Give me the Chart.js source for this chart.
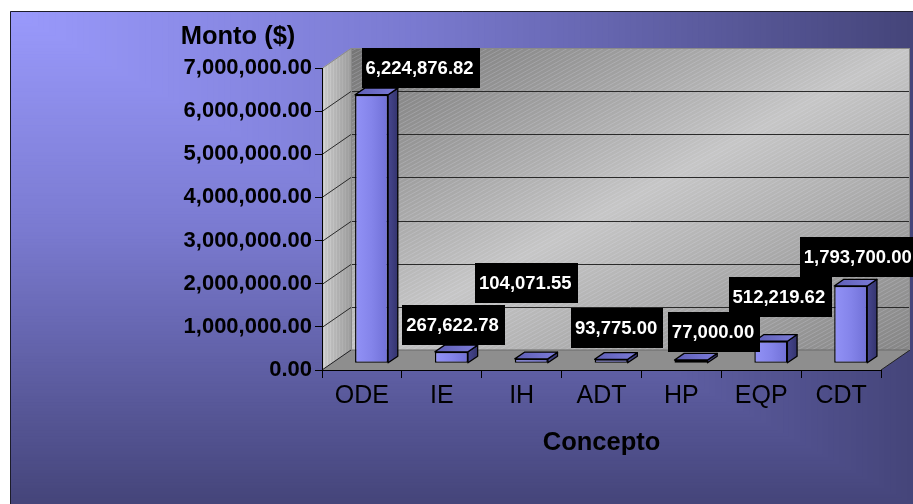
<!DOCTYPE html>
<html>
<head>
<meta charset="utf-8">
<script src="https://cdn.jsdelivr.net/npm/chart.js@4.4.1/dist/chart.umd.min.js"></script>
<style>
  html, body { margin: 0; padding: 0; background: #fff; }
  canvas { display: block; }
</style>
</head>
<body>
<canvas id="chart" width="913" height="504"></canvas>
<script>
// ---- data ----
const categories = ['ODE', 'IE', 'IH', 'ADT', 'HP', 'EQP', 'CDT'];
const montos = [6224876.82, 267622.78, 104071.55, 93775.00, 77000.00, 512219.62, 1793700.00];
const yTickValues = [0, 1000000, 2000000, 3000000, 4000000, 5000000, 6000000, 7000000];
const yTitle = 'Monto ($)';
const xTitle = 'Concepto';

// ---- layout / style ----
const DEPTH = { x: 29, y: -20 };            // depth of the 3-D box (back wall offset)
const BAR_SHIFT = { x: DEPTH.x / 3, y: DEPTH.y / 3 };   // bars sit one third into the box
const BAR_DEPTH = { x: DEPTH.x / 3, y: DEPTH.y / 3 };   // thickness of each bar
// value-box centre relative to the top-front-centre of its bar
const labelNudge = [[49, -27], [2, -27], [-5, -76], [6, -31], [23, -28], [9, -44], [8, -29]];
const FONT = '"Liberation Sans", Arial, Helvetica, sans-serif';

const fmt = v => v.toLocaleString('en-US', { minimumFractionDigits: 2, maximumFractionDigits: 2 });

function mixColor(stops, t) {
  for (let i = 1; i < stops.length; i++) {
    if (t <= stops[i][0]) {
      const [t0, c0] = stops[i - 1], [t1, c1] = stops[i];
      const k = (t - t0) / (t1 - t0);
      const c = c0.map((v, j) => Math.round(v + (c1[j] - v) * k));
      return `rgb(${c[0]},${c[1]},${c[2]})`;
    }
  }
  const c = stops[stops.length - 1][1];
  return `rgb(${c[0]},${c[1]},${c[2]})`;
}

function hatch(ctx, x0, y0, x1, y1, color, gap, slope) {
  ctx.save();
  ctx.strokeStyle = color;
  ctx.lineWidth = 1;
  const h = y1 - y0, w = x1 - x0;
  for (let s = -w * Math.abs(slope) - h; s < h + w; s += gap) {
    ctx.beginPath();
    ctx.moveTo(x0, y1 - s);
    ctx.lineTo(x1, y1 - s - w * slope);
    ctx.stroke();
  }
  ctx.restore();
}

function poly(ctx, pts) {
  ctx.beginPath();
  ctx.moveTo(pts[0][0], pts[0][1]);
  for (let i = 1; i < pts.length; i++) ctx.lineTo(pts[i][0], pts[i][1]);
  ctx.closePath();
}

// background, frame, walls and floor of the 3-D box
const backdrop = {
  id: 'backdrop',
  beforeDraw(chart) {
    const ctx = chart.ctx;
    const { left: L, right: R, top: T, bottom: B } = chart.chartArea;
    const dx = DEPTH.x, dy = DEPTH.y;
    const y = chart.scales.y;
    ctx.save();
    ctx.fillStyle = '#ffffff';
    ctx.fillRect(0, 0, chart.width, chart.height);

    // corner gradient fill of the chart frame
    const fx = 10, fy = 11, fw = chart.width - fx, fh = chart.height - fy;
    const stops = [[0, [154, 154, 252]], [0.45, [122, 122, 208]], [1, [69, 69, 122]]];
    const N = 160;
    for (let i = N; i >= 1; i--) {
      const t = i / N;
      ctx.fillStyle = mixColor(stops, t);
      ctx.fillRect(fx, fy, fw * t, fh * t);
    }
    ctx.strokeStyle = '#1c1c2a';
    ctx.lineWidth = 1;
    ctx.beginPath();
    ctx.moveTo(fx + 0.5, chart.height + 2);
    ctx.lineTo(fx + 0.5, fy + 0.5);
    ctx.lineTo(chart.width + 2, fy + 0.5);
    ctx.stroke();

    // back wall
    const bx0 = L + dx, by0 = T + dy, bx1 = R + dx, by1 = B + dy;
    const cx = (bx0 + bx1) / 2, cy = (by0 + by1) / 2;
    const ux = (by1 - by0), uy = (bx1 - bx0);
    const ul = Math.hypot(ux, uy);
    const proj = Math.abs(((bx0 - cx) * ux + (by0 - cy) * uy) / ul);
    const g = ctx.createLinearGradient(cx - ux / ul * proj, cy - uy / ul * proj, cx + ux / ul * proj, cy + uy / ul * proj);
    g.addColorStop(0, '#747474');
    g.addColorStop(0.5, '#c6c6c6');
    g.addColorStop(1, '#858585');
    ctx.fillStyle = g;
    ctx.fillRect(bx0, by0, bx1 - bx0, by1 - by0);
    ctx.save();
    ctx.beginPath(); ctx.rect(bx0, by0, bx1 - bx0, by1 - by0); ctx.clip();
    hatch(ctx, bx0, by0, bx1, by1, 'rgba(235,235,248,0.2)', 4, 0.55);
    ctx.restore();

    // side wall
    const side = [[L, T], [L + dx, T + dy], [L + dx, B + dy], [L, B]];
    const sg = ctx.createLinearGradient(L, 0, L + dx, 0);
    sg.addColorStop(0, '#d6d6d6');
    sg.addColorStop(1, '#a2a2a2');
    poly(ctx, side);
    ctx.fillStyle = sg;
    ctx.fill();
    ctx.save();
    poly(ctx, side); ctx.clip();
    ctx.strokeStyle = 'rgba(120,120,120,0.25)';
    ctx.lineWidth = 1;
    for (let x = L + 1; x < L + dx; x += 3) {
      ctx.beginPath(); ctx.moveTo(x, T + dy); ctx.lineTo(x, B); ctx.stroke();
    }
    ctx.restore();

    // floor
    poly(ctx, [[L, B], [L + dx, B + dy], [R + dx, B + dy], [R, B]]);
    ctx.fillStyle = '#8e8e8e';
    ctx.fill();
    ctx.strokeStyle = '#6a6a6a';
    ctx.lineWidth = 1;
    ctx.beginPath();
    ctx.moveTo(L + dx, B + dy); ctx.lineTo(R + dx, B + dy);
    ctx.stroke();
    ctx.strokeStyle = '#222';
    ctx.beginPath();
    ctx.moveTo(R, B); ctx.lineTo(R + dx, B + dy);
    ctx.moveTo(L, B); ctx.lineTo(L + dx, B + dy);
    ctx.stroke();

    // gridlines on side and back walls
    yTickValues.forEach(v => {
      if (v === 0) return;
      const yy = Math.round(y.getPixelForValue(v)) + 0.5;
      const top = v === yTickValues[yTickValues.length - 1];
      ctx.strokeStyle = top ? '#8a8a8a' : '#2a2a2a';
      ctx.lineWidth = 1;
      ctx.beginPath();
      ctx.moveTo(L, yy); ctx.lineTo(L + dx, yy + dy);
      ctx.lineTo(R + dx, yy + dy);
      ctx.stroke();
    });
    ctx.strokeStyle = '#8a8a8a';
    ctx.beginPath();
    ctx.moveTo(R + dx - 0.5, T + dy); ctx.lineTo(R + dx - 0.5, B + dy);
    ctx.moveTo(L + dx + 0.5, T + dy); ctx.lineTo(L + dx + 0.5, B + dy);
    ctx.stroke();

    // y title
    ctx.fillStyle = '#000';
    ctx.font = `bold 25.5px ${FONT}`;
    ctx.textAlign = 'center';
    ctx.textBaseline = 'middle';
    ctx.fillText(yTitle, 238, 37);
    ctx.restore();
  }
};

// pushes the bars one third into the box and adds their side and top faces
const bars3d = {
  id: 'bars3d',
  beforeDatasetsDraw(chart) {
    chart.ctx.save();
    chart.ctx.translate(BAR_SHIFT.x, BAR_SHIFT.y);
  },
  afterDatasetsDraw(chart) {
    const ctx = chart.ctx;
    const meta = chart.getDatasetMeta(0);
    const bx = BAR_DEPTH.x, by = BAR_DEPTH.y;
    meta.data.forEach(el => {
      const { x, y, base, width } = el.getProps(['x', 'y', 'base', 'width'], true);
      const xl = x - width / 2, xr = x + width / 2;
      ctx.lineWidth = 1.3;
      ctx.strokeStyle = '#000';
      ctx.lineJoin = 'round';
      const sg = ctx.createLinearGradient(xr, 0, xr + bx, 0);
      sg.addColorStop(0, '#46468e');
      sg.addColorStop(1, '#34346e');
      poly(ctx, [[xr, y], [xr + bx, y + by], [xr + bx, base + by], [xr, base]]);
      ctx.fillStyle = sg; ctx.fill(); ctx.stroke();
      const tg = ctx.createLinearGradient(xl, y, xr + bx, y + by);
      tg.addColorStop(0, '#5e5eb4');
      tg.addColorStop(1, '#7c7cda');
      poly(ctx, [[xl, y], [xl + bx, y + by], [xr + bx, y + by], [xr, y]]);
      ctx.fillStyle = tg; ctx.fill(); ctx.stroke();
    });
    ctx.restore();

    // value boxes
    ctx.save();
    ctx.font = `bold 18.5px ${FONT}`;
    ctx.textBaseline = 'middle';
    ctx.textAlign = 'center';
    meta.data.forEach((el, i) => {
      const { x, y } = el.getProps(['x', 'y'], true);
      const txt = fmt(montos[i]);
      const tw = ctx.measureText(txt).width;
      const bw = tw + 10, bh = 40;
      const cx = x + BAR_SHIFT.x + labelNudge[i][0];
      const cy = y + BAR_SHIFT.y + labelNudge[i][1];
      ctx.fillStyle = '#000';
      ctx.fillRect(Math.round(cx - bw / 2), Math.round(cy - bh / 2), Math.round(bw), bh);
      ctx.fillStyle = '#fff';
      ctx.fillText(txt, cx - 1, cy + 1);
    });
    ctx.restore();
  }
};

function frontFill(c) {
  const chart = c.chart;
  const el = chart.getDatasetMeta(0).data[c.dataIndex];
  if (!el || !Number.isFinite(el.x) || !Number.isFinite(el.width)) return '#8484ea';
  const x0 = el.x - el.width / 2;
  const g = chart.ctx.createLinearGradient(x0, 0, x0 + el.width, 0);
  g.addColorStop(0, '#9292f6');
  g.addColorStop(0.5, '#8484ea');
  g.addColorStop(1, '#7070d6');
  return g;
}

const chart = new Chart(document.getElementById('chart'), {
  type: 'bar',
  data: {
    labels: categories,
    datasets: [{
      data: montos,
      backgroundColor: frontFill,
      borderColor: '#000',
      borderWidth: 1.4,
      borderSkipped: false,
      barPercentage: 0.414,
      categoryPercentage: 1
    }]
  },
  options: {
    responsive: false,
    devicePixelRatio: 1,
    animation: false,
    layout: { padding: { left: 0, right: 32, top: 68, bottom: 0 } },
    plugins: { legend: { display: false }, tooltip: { enabled: false } },
    datasets: { bar: { clip: false } },
    scales: {
      x: {
        grid: { drawOnChartArea: false, drawTicks: true, tickLength: 8, color: '#000', offset: true },
        border: { display: true, color: '#000', width: 1 },
        ticks: { color: '#000', font: { family: FONT, size: 25 }, padding: 3, maxRotation: 0, autoSkip: false },
        title: { display: true, text: xTitle, color: '#000', font: { family: FONT, size: 25.5, weight: 'bold' }, padding: { top: 0, bottom: 46 } },
        afterFit: s => { s.height = 134; }
      },
      y: {
        min: 0,
        max: 7000000,
        afterBuildTicks: s => { s.ticks = yTickValues.map(v => ({ value: v })); },
        grid: { drawOnChartArea: false, drawTicks: true, tickLength: 7, color: '#000' },
        border: { display: true, color: '#000', width: 1 },
        ticks: { color: '#000', font: { family: FONT, size: 22, weight: 'bold' }, padding: 3, callback: v => fmt(v) },
        afterFit: s => { s.width = 322; }
      }
    }
  },
  plugins: [backdrop, bars3d]
});
chart.update('none');
</script>
</body>
</html>
